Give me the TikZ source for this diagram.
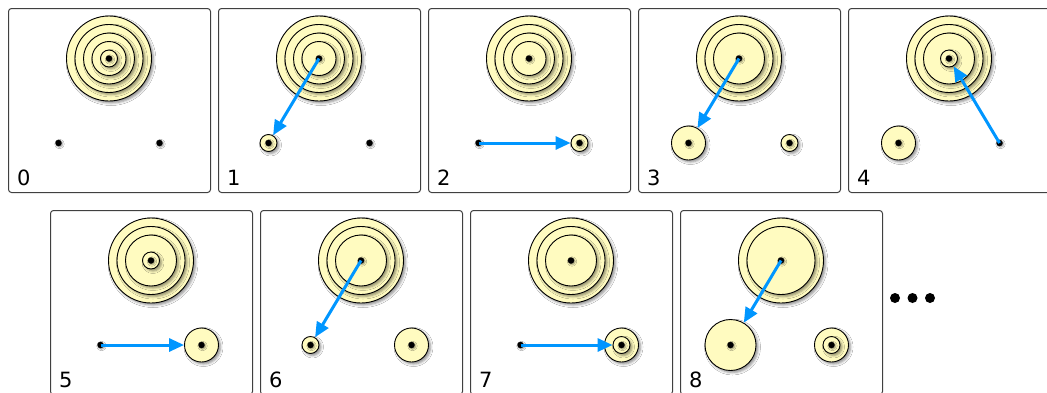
\documentclass[tikz,border=0pt]{standalone}
\usepackage{fontspec}
\setsansfont{DejaVu Sans}
\usepackage{tikz}
\usetikzlibrary{arrows.meta,shadows.blur}
\definecolor{diskyellow}{RGB}{255,251,192}
\definecolor{moveblue}{RGB}{0,150,255}
\tikzset{
	panel/.style={draw=black!75, line width=1pt, rounded corners=3pt, fill=white},
	disk/.style={circle, draw=black, line width=0.9pt, fill=diskyellow, inner sep=0pt, blur shadow={shadow xshift=2pt, shadow yshift=-2pt, shadow blur radius=2.5pt, shadow opacity=45}},
	peg/.style={circle, fill=black, inner sep=0pt, minimum size=6.5pt, blur shadow={shadow xshift=1pt, shadow yshift=-1pt, shadow blur radius=1.5pt, shadow opacity=40}},
	move/.style={draw=moveblue, line width=3pt, -{Triangle[length=15pt,width=13pt]}},
	num/.style={anchor=base west, inner sep=0pt, font=\sffamily\fontsize{21}{21}\selectfont}
}
\def\board#1(#2,#3){\draw[panel] (#2,#3) rectangle ++(202,184);
	\node[num] (n#1) at (#2+8.5,#3+177) {#1};
	\coordinate (A#1) at (#2+100.5,#3+50);
	\coordinate (B#1) at (#2+50,#3+134.5);
	\coordinate (C#1) at (#2+151,#3+134.5);}
\def\stack#1#2{\foreach \d in {#2}{\node[disk, minimum size={17pt*\d}] (#1d\d) at (#1) {};}
	\node[peg] (#1dot) at (#1) {};}
\def\bare#1{\node[peg] (#1dot) at (#1) {};}

\begin{document}
\begin{tikzpicture}[x=1pt,y=-1pt]
			%%%%% START %%%%%
			\useasboundingbox (0,0) rectangle (1047,392);
			
			\board0(8.5,8.5)
			\stack{A0}{5,4,3,2,1}
			\bare{B0}
			\bare{C0}
			
			\board1(218.5,8.5)
			\stack{A1}{5,4,3,2}
			\stack{B1}{1}
			\bare{C1}
			\draw[move] (A1) -- (B1d1);
			
			\board2(428.5,8.5)
			\stack{A2}{5,4,3,2}
			\bare{B2}
			\stack{C2}{1}
			\draw[move] (B2) -- (C2d1);
			
			\board3(638.5,8.5)
			\stack{A3}{5,4,3}
			\stack{B3}{2}
			\stack{C3}{1}
			\draw[move] (A3) -- (B3d2);
			
			\board4(848.5,8.5)
			\stack{A4}{5,4,3,1}
			\stack{B4}{2}
			\bare{C4}
			\draw[move] (C4) -- (A4d1);
			
			\board5(50.5,210.5)
			\stack{A5}{5,4,3,1}
			\bare{B5}
			\stack{C5}{2}
			\draw[move] (B5) -- (C5d2);
			
			\board6(260.5,210.5)
			\stack{A6}{5,4,3}
			\stack{B6}{1}
			\stack{C6}{2}
			\draw[move] (A6) -- (B6d1);
			
			\board7(470.5,210.5)
			\stack{A7}{5,4,3}
			\bare{B7}
			\stack{C7}{2,1}
			\draw[move] (B7) -- (C7d1);
			
			\board8(680.5,210.5)
			\stack{A8}{5,4}
			\stack{B8}{3}
			\stack{C8}{2,1}
			\draw[move] (A8) -- (B8d3);
			
			\foreach \i/\x in {1/895,2/912.5,3/930}
				\node[circle, fill=black, inner sep=0pt, minimum size=10pt] (more\i) at (\x,298) {};
			
			%%%%% END %%%%%
\end{tikzpicture}
\end{document}
